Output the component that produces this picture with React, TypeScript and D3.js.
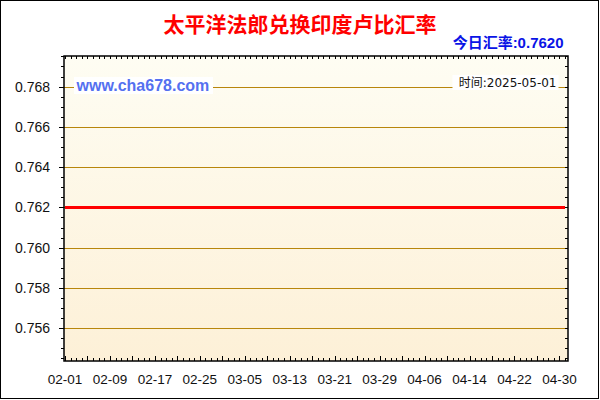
import * as d3 from "d3";

// daily rate, 2025-02-01 .. 2025-05-01
const startDate = "2025-02-01";
const rates = [
  0.762, 0.762, 0.762, 0.762, 0.762, 0.762, 0.762, 0.762, 0.762, 0.762,
  0.762, 0.762, 0.762, 0.762, 0.762, 0.762, 0.762, 0.762, 0.762, 0.762,
  0.762, 0.762, 0.762, 0.762, 0.762, 0.762, 0.762, 0.762, 0.762, 0.762,
  0.762, 0.762, 0.762, 0.762, 0.762, 0.762, 0.762, 0.762, 0.762, 0.762,
  0.762, 0.762, 0.762, 0.762, 0.762, 0.762, 0.762, 0.762, 0.762, 0.762,
  0.762, 0.762, 0.762, 0.762, 0.762, 0.762, 0.762, 0.762, 0.762, 0.762,
  0.762, 0.762, 0.762, 0.762, 0.762, 0.762, 0.762, 0.762, 0.762, 0.762,
  0.762, 0.762, 0.762, 0.762, 0.762, 0.762, 0.762, 0.762, 0.762, 0.762,
  0.762, 0.762, 0.762, 0.762, 0.762, 0.762, 0.762, 0.762, 0.762, 0.762,
];
const xTickLabels = [
  "02-01", "02-09", "02-17", "02-25", "03-05", "03-13",
  "03-21", "03-29", "04-06", "04-14", "04-22", "04-30",
];
const yTickValues = [0.756, 0.758, 0.76, 0.762, 0.764, 0.766, 0.768];
const title = "太平洋法郎兑换印度卢比汇率";
const todayRate = "今日汇率:0.7620";
const dateText = "时间:2025-05-01";
const watermark = "www.cha678.com";

const W = 600;
const H = 400;
const plot = { left: 64, right: 568, top: 56, bottom: 361 };
const grid = "#b8860b";
const latin = "'Liberation Sans', Arial, sans-serif";

export default function App() {
  const start = d3.timeParse("%Y-%m-%d")(startDate) as Date;
  const days = rates.map((_, i) => i);

  const x = d3.scaleLinear().domain([-0.18, rates.length - 0.47]).range([plot.left, plot.right]);
  const y = d3.scaleLinear().domain([0.75437, 0.76952]).range([plot.bottom, plot.top]);

  const line = d3
    .line<number>()
    .x((d) => x(d))
    .y((d) => y(rates[d]));

  // day ticks along top and bottom
  const dayTicks = d3.range(0, rates.length);
  const minorY = d3.range(0.7545, 0.7695, 0.0005);
  const labelDays = xTickLabels.map((l) => {
    const dt = d3.timeParse("%Y-%m-%d")("2025-" + l) as Date;
    return d3.timeDay.count(start, dt);
  });

  return (
    <svg
      width={W}
      height={H}
      style={{ position: "absolute", left: 0, top: 0, background: "#fff" }}
    >
      <defs>
        <linearGradient id="bg" x1="0" y1="0" x2="0" y2="1">
          <stop offset="0%" stopColor="#fefdf3" />
          <stop offset="100%" stopColor="#fdf0d7" />
        </linearGradient>
      </defs>
      <rect x={0.5} y={0.5} width={598} height={398} fill="#fff" stroke="#000" />

      <text
        x={300}
        y={32}
        textAnchor="middle"
        fontSize={21}
        fontWeight="bold"
        fill="#ff0000"
        fontFamily="'Noto Sans CJK SC', sans-serif"
      >
        {title}
      </text>
      <text
        x={563.5}
        y={48}
        textAnchor="end"
        fontSize={15}
        fontWeight="bold"
        fill="#0a14e6"
        fontFamily={`${latin}, 'Noto Sans CJK SC'`}
      >
        {todayRate}
      </text>

      <rect
        x={plot.left}
        y={plot.top}
        width={plot.right - plot.left}
        height={plot.bottom - plot.top}
        fill="url(#bg)"
      />

      {/* grid */}
      {yTickValues.map((v) => (
        <line
          key={v}
          x1={plot.left}
          x2={plot.right}
          y1={Math.round(y(v)) + 0.5}
          y2={Math.round(y(v)) + 0.5}
          stroke={grid}
          strokeWidth={1}
        />
      ))}

      {/* labels on white boxes */}
      <rect x={74} y={77} width={139} height={17} fill="#fff" />
      <text
        x={76.5}
        y={90.5}
        fontSize={16}
        fontWeight="bold"
        fill="#5470f0"
        fontFamily={latin}
      >
        {watermark}
      </text>
      <rect x={452.5} y={75} width={106} height={15} fill="#fff" />
      <text
        x={556.5}
        y={86.5}
        textAnchor="end"
        fontSize={12}
        fill="#111"
        fontFamily="'DejaVu Sans', 'Noto Sans CJK SC', sans-serif"
      >
        {dateText}
      </text>

      {/* series */}
      <path d={line(days) ?? ""} fill="none" stroke="#ff0000" strokeWidth={3} />

      {/* frame */}
      <rect
        x={plot.left}
        y={plot.top}
        width={plot.right - plot.left}
        height={plot.bottom - plot.top}
        fill="none"
        stroke="#000"
        strokeWidth={1.5}
      />

      {/* left / right ticks */}
      {minorY.map((v) => {
        const yy = Math.round(y(v)) + 0.5;
        const major = yTickValues.some((t) => Math.abs(t - v) < 1e-6);
        return (
          <g key={v}>
            <line x1={plot.left - (major ? 5 : 3)} x2={plot.left} y1={yy} y2={yy} stroke="#000" />
            <line x1={plot.right - 3} x2={plot.right} y1={yy} y2={yy} stroke="#000" />
          </g>
        );
      })}

      {/* top / bottom ticks */}
      {dayTicks.map((d) => {
        const xx = Math.round(x(d)) + 0.5;
        const major = d % 4 === 0;
        return (
          <g key={d}>
            <line x1={xx} x2={xx} y1={plot.top} y2={plot.top + 3} stroke="#000" />
            <line
              x1={xx}
              x2={xx}
              y1={plot.bottom}
              y2={plot.bottom - (major ? 5 : 3)}
              stroke="#000"
            />
          </g>
        );
      })}

      {/* y labels */}
      {yTickValues.map((v) => (
        <text
          key={v}
          x={50}
          y={y(v) + 5}
          textAnchor="end"
          fontSize={14}
          fill="#111"
          fontFamily={latin}
        >
          {d3.format(".3f")(v)}
        </text>
      ))}

      {/* x labels */}
      {xTickLabels.map((l, i) => (
        <text
          key={l}
          x={x(labelDays[i])}
          y={384}
          textAnchor="middle"
          fontSize={13.5}
          fill="#111"
          fontFamily={latin}
        >
          {l}
        </text>
      ))}
    </svg>
  );
}
